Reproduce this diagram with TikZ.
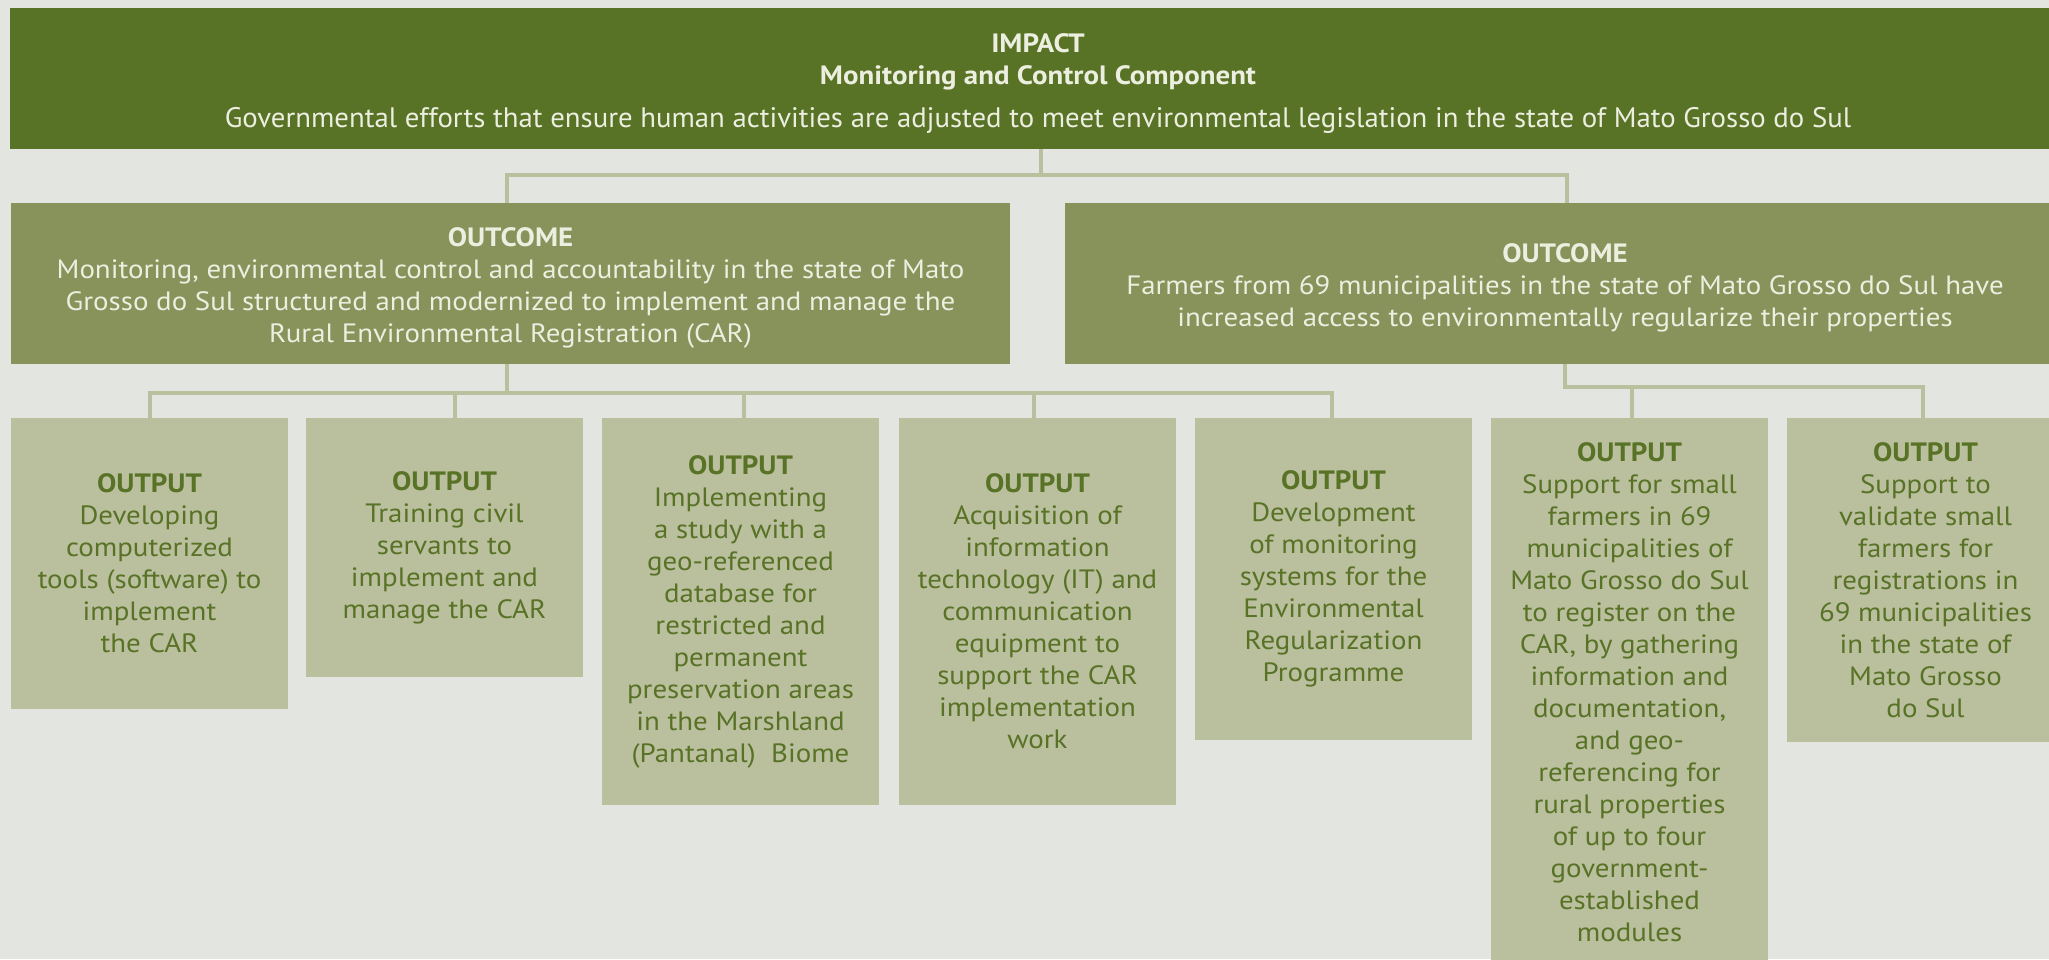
\documentclass[tikz,border=0pt]{standalone}
\usepackage{fontspec}
\setmainfont{PT Sans}[FakeStretch=1.09]
\newfontfamily\plainpt{PT Sans}[FakeStretch=1.02]
\definecolor{bg}{HTML}{E3E5E0}
\definecolor{impactc}{HTML}{587226}
\definecolor{outcomec}{HTML}{87935A}
\definecolor{outputc}{HTML}{BABF9D}
\definecolor{lightt}{HTML}{ECEEDF}
\definecolor{darkt}{HTML}{587226}
\begin{document}
\begin{tikzpicture}[x=1pt,y=-1pt,
  impactbox/.style={fill=impactc,text=lightt,inner sep=0pt,align=center,
    minimum width=2056pt,minimum height=141pt,font=\fontsize{26.5}{32}\selectfont},
  outcomebox/.style={fill=outcomec,text=lightt,inner sep=0pt,align=center,
    minimum height=161pt,font=\fontsize{26.5}{32}\selectfont},
  outputbox/.style={fill=outputc,text=darkt,inner sep=0pt,align=center,
    minimum width=277pt,font=\fontsize{26.5}{32}\selectfont},
  conn/.style={draw=outputc,line width=4pt}]
\useasboundingbox (0,0) rectangle (2049,959);
\clip (0,0) rectangle (2049,959);
\fill[bg] (0,0) rectangle (2049,959);

\node[impactbox] (impact) at (1038,78.5) {};
\node[text=lightt,align=center,inner sep=0pt,font=\fontsize{26.5}{32}\selectfont] (impacttext) at (1038,83.5) {\textbf{IMPACT}\\\textbf{Monitoring and Control Component}\\[11pt]
{\plainpt\fontsize{28.2}{32}\selectfont Governmental efforts that ensure human activities are adjusted to meet environmental legislation in the state of Mato Grosso do Sul}};

\node[outcomebox,minimum width=999pt] (outL) at (510.5,283.5) {};
\node[text=lightt,align=center,inner sep=0pt,font=\fontsize{26.5}{32}\selectfont] (outLtext) at (510.5,287.5) {\textbf{OUTCOME}\\Monitoring, environmental control and accountability in the state of Mato\\Grosso do Sul structured and modernized to implement and manage the\\Rural Environmental Registration (CAR)};
\node[outcomebox,minimum width=1000pt] (outR) at (1565,283.5) {};
\node[text=lightt,align=center,inner sep=0pt,font=\fontsize{26.5}{32}\selectfont] (outRtext) at (1565,287.5) {\textbf{OUTCOME}\\Farmers from 69 municipalities in the state of Mato Grosso do Sul have\\increased access to environmentally regularize their properties};

\node[outputbox,minimum height=291pt] (o1) at (149.5,563.5) {\textbf{OUTPUT}\\Developing\\computerized\\tools (software) to\\implement\\the CAR};
\node[outputbox,minimum height=259pt] (o2) at (444.5,547.5) {\textbf{OUTPUT}\\Training civil\\servants to\\implement and\\manage the CAR};
\node[outputbox,minimum height=387pt] (o3) at (740.5,611.5) {\textbf{OUTPUT}\\Implementing\\a study with a\\geo-referenced\\database for\\restricted and\\permanent\\preservation areas\\in the Marshland\\(Pantanal)~ Biome};
\node[outputbox,minimum height=387pt] (o4) at (1037.5,611.5) {\textbf{OUTPUT}\\Acquisition of\\information\\technology (IT) and\\communication\\equipment to\\support the CAR\\implementation\\work};
\node[outputbox,minimum height=322pt] (o5) at (1333.5,579) {\textbf{OUTPUT}\\Development\\of monitoring\\systems for the\\Environmental\\Regularization\\Programme};
\node[outputbox,minimum height=549pt] (o6) at (1629.5,692.5) {\textbf{OUTPUT}\\Support for small\\farmers in 69\\municipalities of\\Mato Grosso do Sul\\to register on the\\CAR, by gathering\\information and\\documentation,\\and geo-\\referencing for\\rural properties\\of up to four\\government-\\established\\modules};
\node[outputbox,minimum height=324pt] (o7) at (1925.5,580) {\textbf{OUTPUT}\\Support to\\validate small\\farmers for\\registrations in\\69 municipalities\\in the state of\\Mato Grosso\\do Sul};

% top connectors
\coordinate (tb) at (1041,175);
\coordinate (tl) at (507,175);
\coordinate (tr) at (1567,175);
\draw[conn] (impact.south -| tb) -- (tb);
\draw[conn] (outL.north -| tl) -- (tl) -- (tr) -- (outR.north -| tr);

% left bus
\coordinate (lb) at (507,393);
\coordinate (b1) at (150,393);
\coordinate (b2) at (455,393);
\coordinate (b3) at (744,393);
\coordinate (b4) at (1034,393);
\coordinate (b5) at (1332,393);
\draw[conn] (outL.south -| lb) -- (lb);
\draw[conn] (o1.north -| b1) -- (b1) -- (b5) -- (o5.north -| b5);
\draw[conn] (b2) -- (o2.north -| b2);
\draw[conn] (b3) -- (o3.north -| b3);
\draw[conn] (b4) -- (o4.north -| b4);

% right bus
\coordinate (rb) at (1565,387);
\coordinate (b6) at (1632,387);
\coordinate (b7) at (1923,387);
\draw[conn] (outR.south -| rb) -- (rb) -- (b7) -- (o7.north -| b7);
\draw[conn] (b6) -- (o6.north -| b6);
\end{tikzpicture}
\end{document}
